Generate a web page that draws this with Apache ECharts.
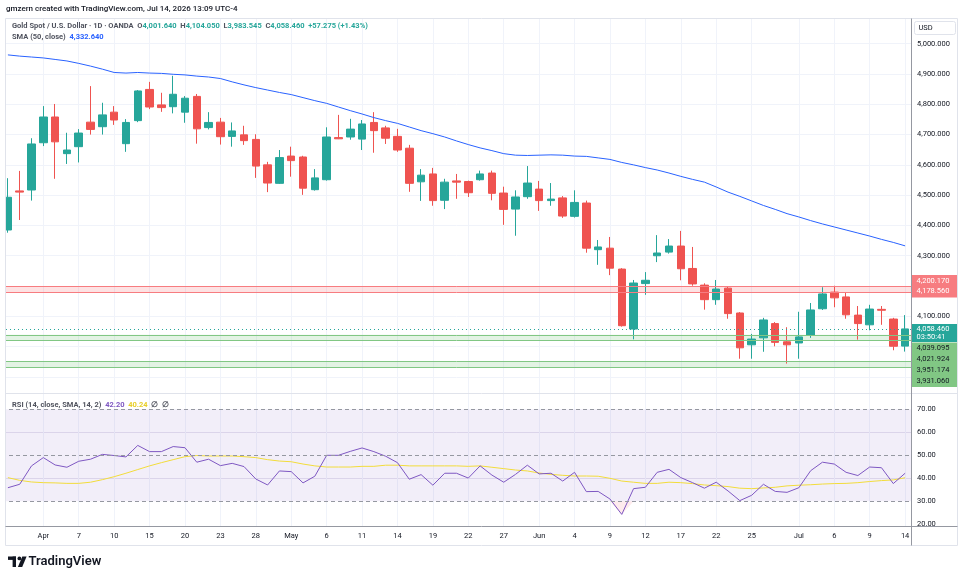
<!DOCTYPE html>
<html><head><meta charset="utf-8">
<script src="https://cdn.jsdelivr.net/npm/echarts@6.0.0/dist/echarts.min.js"></script>
<style>html,body{margin:0;padding:0;background:#fff}#c{width:964px;height:582px}</style>
</head><body><div id="c"></div>
<script>
// ---------- DATA ----------
const dates = ['2026-03-27','2026-03-30','2026-03-31',
'2026-04-01','2026-04-02','2026-04-06','2026-04-07','2026-04-08','2026-04-09','2026-04-10','2026-04-13','2026-04-14','2026-04-15','2026-04-16','2026-04-17','2026-04-20','2026-04-21','2026-04-22','2026-04-23','2026-04-24','2026-04-27','2026-04-28','2026-04-29','2026-04-30',
'2026-05-01','2026-05-04','2026-05-05','2026-05-06','2026-05-07','2026-05-08','2026-05-11','2026-05-12','2026-05-13','2026-05-14','2026-05-15','2026-05-18','2026-05-19','2026-05-20','2026-05-21','2026-05-22','2026-05-25','2026-05-26','2026-05-27','2026-05-28','2026-05-29',
'2026-06-01','2026-06-02','2026-06-03','2026-06-04','2026-06-05','2026-06-08','2026-06-09','2026-06-10','2026-06-11','2026-06-12','2026-06-15','2026-06-16','2026-06-17','2026-06-18','2026-06-19','2026-06-22','2026-06-23','2026-06-24','2026-06-25','2026-06-26','2026-06-29','2026-06-30',
'2026-07-01','2026-07-02','2026-07-03','2026-07-06','2026-07-07','2026-07-08','2026-07-09','2026-07-10','2026-07-13','2026-07-14'];

const tickDates = ['2026-04-01','2026-04-07','2026-04-10','2026-04-15','2026-04-20','2026-04-23','2026-04-28','2026-05-01','2026-05-06','2026-05-11','2026-05-14','2026-05-19','2026-05-22','2026-05-27','2026-06-01','2026-06-04','2026-06-09','2026-06-12','2026-06-17','2026-06-22','2026-06-25','2026-07-01','2026-07-06','2026-07-09','2026-07-14'];
const tickLabels = ['Apr','7','10','15','20','23','28','May','6','11','14','19','22','27','Jun','4','9','12','17','22','25','Jul','6','9','14'];

const open = [4385,4514,4517,4673,4758,4637,4660,4741,4726,4774,
4670,4746,4849,4798,4792,4774,4826,4723,4741,4694,
4699,4684,4600,4539,4629,4626,4518,4551,4690,4692,
4685,4740,4722,4694,4655,4544,4570,4483,4547,4545,
4551,4573,4507,4454,4495,4520,4482,4491,4430,4474,
4320,4325,4256,4058,4208,4300,4312,4332,4258,4203,
4155,4193,4111,4006,4029,4076,4016,4012,4037,4125,
4180,4164,4104,4072,4123,4091,4001.64];
const high = [4556,4580,4688,4794,4801,4706,4718,4860,4805,4794,
4751,4847,4874,4838,4894,4827,4834,4774,4755,4740,
4729,4701,4610,4649,4660,4630,4586,4724,4765,4752,
4748,4774,4729,4719,4666,4586,4590,4554,4570,4548,
4581,4581,4528,4516,4596,4547,4540,4497,4516,4482,
4352,4362,4259,4220,4246,4368,4355,4382,4329,4209,
4220,4199,4114,4042,4095,4081,4064,4115,4144,4196,
4201,4179,4134,4138,4134,4095,4104.05];
const low = [4376,4418,4482,4662,4554,4603,4608,4700,4700,4732,
4643,4741,4784,4775,4770,4739,4670,4717,4667,4660,
4666,4557,4510,4537,4561,4501,4515,4548,4685,4683,
4649,4640,4669,4643,4511,4481,4465,4454,4488,4494,
4548,4483,4402,4366,4488,4448,4465,4425,4426,4310,
4270,4236,4066,4024,4171,4279,4307,4219,4201,4122,
4138,4092,3960,3960,3983,4001,3944,3960,4029,4121,
4130,4092,4023,4054,4072,3988,3983.545];
const close = [4493,4510,4669,4758,4676,4649,4705,4717,4765,4748,
4740,4844,4791,4789,4833,4820,4719,4740,4693,4712,
4680,4596,4540,4624,4614,4523,4557,4692,4686,4718,
4735,4713,4688,4649,4539,4566,4482,4543,4543,4508,
4570,4506,4453,4494,4540,4482,4487,4431,4476,4325,
4329,4259,4069,4210,4219,4309,4332,4257,4207,4155,
4190,4109,3996,4025,4088,4014,4006,4032,4121,4174,
4161,4105,4076,4124,4120,4001.185,4058.46];

const sma50 = [4963,4959,4956,4953,4948,4943,4935,4926,4916,4905,
4903,4905,4903,4902,4899,4897,4893,4890,4885,4874,
4864,4855,4847,4839,4832,4822,4812,4803,4791,4779,
4768,4756,4746,4737,4725,4713,4703,4692,4679,4667,
4656,4647,4637,4632,4631,4632,4633,4632,4629,4628,
4623,4618,4608,4600,4591,4583,4573,4562,4552,4543,
4527,4510,4496,4481,4466,4453,4439,4428,4416,4405,
4395,4385,4375,4365,4354,4344,4332.64];

const rsi = [35.9,37.4,45.4,49.0,45.8,44.8,47.4,48.3,50.4,49.9,
49.3,54.3,51.6,51.6,53.8,53.3,47.0,48.3,45.5,46.5,
45.1,39.7,37.1,43.2,42.9,38.0,40.9,50.0,50.0,51.7,
53.2,51.6,49.6,46.8,39.6,41.6,37.0,42.2,42.2,40.1,
45.4,41.4,38.3,41.7,45.7,41.9,42.2,38.8,42.6,34.2,
34.3,31.0,24.3,35.5,36.1,42.6,43.9,40.3,38.1,35.7,
38.3,34.5,30.3,32.6,37.4,34.3,33.9,35.9,43.3,47.0,
46.2,42.6,41.2,44.9,44.6,37.7,42.20];
const rsiSma = [40.3,39.1,38.4,38.1,38.0,37.8,37.8,38.3,39.4,40.7,
42.2,43.8,45.4,46.8,48.1,49.4,49.9,49.7,49.7,49.7,
49.4,49.0,48.1,47.5,47.2,46.2,45.4,44.9,44.9,44.9,
45.2,45.2,45.7,45.7,45.4,45.4,45.4,45.4,45.4,45.2,
45.4,44.8,44.2,43.6,43.2,42.3,41.7,41.3,41.0,41.0,
40.9,40.0,38.8,38.3,37.8,37.8,38.3,38.1,37.7,37.1,
36.8,36.4,35.7,35.5,35.8,36.1,36.7,37.0,37.2,37.5,
37.7,37.8,38.1,38.6,39.0,39.3,40.24];

const redZone = [4200.170, 4178.560];
const greenZoneA = [4039.095, 4021.924];
const greenZoneB = [3951.174, 3931.060];
const rsiLevels = [70, 50, 30];
const countdown = '03:50:41';

const priceMin = 3800, priceMax = 5100, priceStep = 100;
const rsiMin = 10, rsiMax = 80, rsiStep = 10;

// ---------- STYLE ----------
const FONT = 'Roboto, "Liberation Sans", sans-serif';
const UP = '#26a69a', DOWN = '#ef5350';
const TXT = '#131722', GRID = '#f0f3fa', BORDER = '#e0e3eb', AXIS = '#9598a1';

function fmt(v, d) {
  const s = Math.abs(v).toFixed(d);
  const parts = s.split('.');
  const a = parts[0].replace(/\B(?=(\d{3})+(?!\d))/g, ',');
  return (v < 0 ? '-' : '') + a + (parts[1] ? '.' + parts[1] : '');
}

const n = dates.length;
const last = n - 1;
const chg = close[last] - close[last - 1];
const pct = chg / close[last - 1] * 100;
const isTick = (i, v) => tickDates.indexOf(dates[i]) >= 0;
const labelOf = (v) => { const k = tickDates.indexOf(v); return k >= 0 ? tickLabels[k] : ''; };

const priceGridColors = [];
for (let v = priceMin; v <= priceMax; v += priceStep) priceGridColors.push((v === priceMin || v === priceMax) ? 'rgba(0,0,0,0)' : GRID);
const rsiGridColors = [];
for (let v = rsiMin; v <= rsiMax; v += rsiStep) rsiGridColors.push((v === 40 || v === 60) ? '#e6e2ef' : 'rgba(0,0,0,0)');

const candleData = dates.map((d, i) => [open[i], close[i], low[i], high[i]]);
const oversold = rsi.map(v => Math.min(v, rsiLevels[2]));

const chart = echarts.init(document.getElementById('c'));
const bw = (964 - 2 - 53) / n;

const option = {
  animation: false,
  textStyle: { fontFamily: FONT },
  title: [
    { left: 6, top: 5, padding: 0, text: 'gmzern created with TradingView.com, Jul 14, 2026 13:09 UTC-4',
      textStyle: { fontSize: 8, fontWeight: 500, color: TXT, fontFamily: FONT } },
    { left: 12, top: 22, padding: 0,
      text: '{g|Gold Spot / U.S. Dollar · 1D · OANDA}  {g|O}{v|' + fmt(open[last],3) + '}  {g|H}{v|' + fmt(high[last],3) +
            '}  {g|L}{v|' + fmt(low[last],3) + '}  {g|C}{v|' + fmt(close[last],3) + '}  {v|' + (chg >= 0 ? '+' : '') + fmt(chg,3) +
            ' (' + (pct >= 0 ? '+' : '') + pct.toFixed(2) + '%)}',
      textStyle: { fontSize: 7.5, fontFamily: FONT, rich: {
        g: { color: '#50535e', fontSize: 7.5, fontFamily: FONT },
        v: { color: UP, fontSize: 7.5, fontFamily: FONT } } } },
    { left: 12, top: 33, padding: 0,
      text: '{g|SMA (50, close)}  {b|' + fmt(sma50[last],3) + '}',
      textStyle: { fontSize: 7.5, fontFamily: FONT, rich: {
        g: { color: '#50535e', fontSize: 7.5, fontFamily: FONT },
        b: { color: '#2962ff', fontSize: 7.5, fontFamily: FONT } } } },
    { left: 12, top: 401, padding: 0,
      text: '{g|RSI (14, close, SMA, 14, 2)}  {p|' + rsi[last].toFixed(2) + '}  {y|' + rsiSma[last].toFixed(2) + '}  {g|∅  ∅}',
      textStyle: { fontSize: 7.5, fontFamily: FONT, rich: {
        g: { color: '#50535e', fontSize: 7.5, fontFamily: FONT },
        p: { color: '#7e57c2', fontSize: 7.5, fontFamily: FONT },
        y: { color: '#e8cf2a', fontSize: 7.5, fontFamily: FONT } } } }
  ],
  grid: [
    { left: 2, right: 53, top: 13.4, height: 393.8 },
    { left: 2, right: 53, top: 386.3, height: 161 },
    { left: 2 + bw / 2, right: 53 + bw / 2, top: 18.5, height: 507.5 }
  ],
  xAxis: [
    { type: 'category', gridIndex: 0, data: dates, show: false },
    { type: 'category', gridIndex: 1, data: dates, show: false },
    { type: 'category', gridIndex: 2, data: dates, boundaryGap: false,
      axisLine: { show: false }, axisTick: { show: false },
      axisLabel: { interval: isTick, formatter: labelOf, fontSize: 7.5, color: TXT, margin: 6, fontFamily: FONT,
                   showMinLabel: true, showMaxLabel: true, hideOverlap: false },
      splitLine: { show: true, interval: isTick, lineStyle: { color: GRID, width: 1 } } }
  ],
  yAxis: [
    { type: 'value', gridIndex: 0, position: 'right', min: priceMin, max: priceMax, interval: priceStep,
      axisLine: { show: false }, axisTick: { show: false },
      axisLabel: { margin: 6, fontSize: 7.5, color: TXT, fontFamily: FONT,
                   formatter: v => (v <= priceMin || v >= priceMax) ? '' : fmt(v, 3) },
      splitLine: { show: true, lineStyle: { color: priceGridColors, width: 1 } } },
    { type: 'value', gridIndex: 1, position: 'right', min: rsiMin, max: rsiMax, interval: rsiStep,
      axisLine: { show: false }, axisTick: { show: false },
      axisLabel: { margin: 6, fontSize: 7.5, color: TXT, fontFamily: FONT,
                   formatter: v => (v <= rsiMin || v >= rsiMax) ? '' : v.toFixed(2) },
      splitLine: { show: true, lineStyle: { color: rsiGridColors, width: 1 } } },
    { type: 'value', gridIndex: 2, show: false }
  ],
  series: [
    { type: 'candlestick', xAxisIndex: 0, yAxisIndex: 0, data: candleData, barWidth: 8,
      itemStyle: { color: UP, color0: DOWN, borderColor: UP, borderColor0: DOWN, borderWidth: 1 },
      markArea: { silent: true, label: { show: false },
        data: [
          [{ yAxis: redZone[1], itemStyle: { color: 'rgba(247,124,128,0.22)' } }, { yAxis: redZone[0] }],
          [{ yAxis: greenZoneA[1], itemStyle: { color: 'rgba(129,199,132,0.22)' } }, { yAxis: greenZoneA[0] }],
          [{ yAxis: greenZoneB[1], itemStyle: { color: 'rgba(129,199,132,0.22)' } }, { yAxis: greenZoneB[0] }]
        ] },
      markLine: { silent: true, symbol: 'none', label: { show: false }, animation: false,
        data: [
          { yAxis: redZone[0], lineStyle: { color: '#f77c80', width: 1, type: 'solid' } },
          { yAxis: redZone[1], lineStyle: { color: '#f77c80', width: 1, type: 'solid' } },
          { yAxis: greenZoneA[0], lineStyle: { color: '#81c784', width: 1, type: 'solid' } },
          { yAxis: greenZoneA[1], lineStyle: { color: '#81c784', width: 1, type: 'solid' } },
          { yAxis: greenZoneB[0], lineStyle: { color: '#81c784', width: 1, type: 'solid' } },
          { yAxis: greenZoneB[1], lineStyle: { color: '#81c784', width: 1, type: 'solid' } },
          { yAxis: close[last], lineStyle: { color: UP, width: 1, type: [1, 3] } }
        ] } },
    { type: 'line', xAxisIndex: 0, yAxisIndex: 0, data: sma50, symbol: 'none', smooth: false,
      lineStyle: { color: '#2962ff', width: 1 }, z: 3 },
    { type: 'line', xAxisIndex: 1, yAxisIndex: 1, data: oversold, symbol: 'none', silent: true,
      lineStyle: { width: 0, opacity: 0 }, areaStyle: { origin: rsiLevels[2], color: 'rgba(242,54,69,0.14)' }, z: 2 },
    { type: 'line', xAxisIndex: 1, yAxisIndex: 1, data: rsi, symbol: 'none',
      lineStyle: { color: '#7e57c2', width: 1 }, z: 4,
      markArea: { silent: true, label: { show: false },
        data: [[{ yAxis: rsiLevels[2], itemStyle: { color: 'rgba(126,87,194,0.1)' } }, { yAxis: rsiLevels[0] }]] },
      markLine: { silent: true, symbol: 'none', label: { show: false },
        lineStyle: { color: '#9598a1', width: 1, type: [4, 3] },
        data: rsiLevels.map(v => ({ yAxis: v })) } },
    { type: 'line', xAxisIndex: 1, yAxisIndex: 1, data: rsiSma, symbol: 'none',
      lineStyle: { color: '#f2dc3a', width: 1 }, z: 3 }
  ]
};
chart.setOption(option);

// ---------- frame + price tags ----------
const line = (x1, y1, x2, y2, c) => ({ type: 'line', z: 90, silent: true, shape: { x1, y1, x2, y2 }, style: { stroke: c, lineWidth: 1 } });
const base = [
  { type: 'rect', z: 80, silent: true, shape: { x: 0, y: 15, width: 5.5, height: 535 }, style: { fill: '#fff' } },
  { type: 'rect', z: 90, silent: true, shape: { x: 5.5, y: 18.5, width: 952, height: 527 }, style: { fill: 'none', stroke: BORDER, lineWidth: 1 } },
  line(5.5, 393.5, 957.5, 393.5, BORDER),
  line(5.5, 526.5, 957.5, 526.5, AXIS),
  line(911.5, 18.5, 911.5, 545.5, AXIS),
  { type: 'rect', z: 95, silent: true, shape: { x: 914.5, y: 21.5, width: 41, height: 13, r: 2 }, style: { fill: '#fff', stroke: BORDER, lineWidth: 1 } },
  { type: 'text', z: 96, silent: true, x: 918.5, y: 28.5, style: { text: 'USD', fill: TXT, font: '7.5px ' + FONT, verticalAlign: 'middle' } },
  // logo
  { type: 'rect', z: 96, silent: true, shape: { x: 8, y: 556.5, width: 8, height: 3.4 }, style: { fill: '#131722' } },
  { type: 'rect', z: 96, silent: true, shape: { x: 12.6, y: 556.5, width: 3.4, height: 10.5 }, style: { fill: '#131722' } },
  { type: 'circle', z: 96, silent: true, shape: { cx: 19.4, cy: 558.4, r: 1.9 }, style: { fill: '#131722' } },
  { type: 'polygon', z: 96, silent: true, shape: { points: [[22.3, 556.5], [26.6, 556.5], [22.2, 567], [17.9, 567]] }, style: { fill: '#131722' } },
  { type: 'text', z: 96, silent: true, x: 28.5, y: 562, style: { text: 'TradingView', fill: '#131722', font: '600 13px ' + FONT, verticalAlign: 'middle' } }
];

const py = v => chart.convertToPixel({ yAxisIndex: 0 }, v);
const tags = [];
const tagX = 912, tagW = 45, textX = 916.5;
function box(y0, y1, fill) { tags.push({ type: 'rect', z: 100, silent: true, shape: { x: tagX, y: y0, width: tagW, height: y1 - y0 }, style: { fill } }); }
function txt(y, s, fill) { tags.push({ type: 'text', z: 101, silent: true, x: textX, y, style: { text: s, fill, font: '7.5px ' + FONT, verticalAlign: 'middle' } }); }

const r0 = py(redZone[0]) - 5, r1 = r0 + 10;
box(r0 - 6, r1 + 6.5, '#f77c80');
txt(r0, fmt(redZone[0], 3), '#fff');
txt(r1, fmt(redZone[1], 3), '#fff');

const c0 = py(close[last]), c1 = c0 + 8.5;
box(c0 - 5, c1 + 4.5, UP);
txt(c0, fmt(close[last], 3), '#fff');
txt(c1, countdown, '#fff');

const greens = greenZoneA.concat(greenZoneB);
const g0 = c1 + 4.5 + 6;
box(c1 + 4.5 + 0.5, g0 + (greens.length - 1) * 11 + 6, '#81c784');
greens.forEach((v, k) => txt(g0 + k * 11, fmt(v, 3), TXT));

chart.setOption({ graphic: base.concat(tags) });
</script></body></html>
